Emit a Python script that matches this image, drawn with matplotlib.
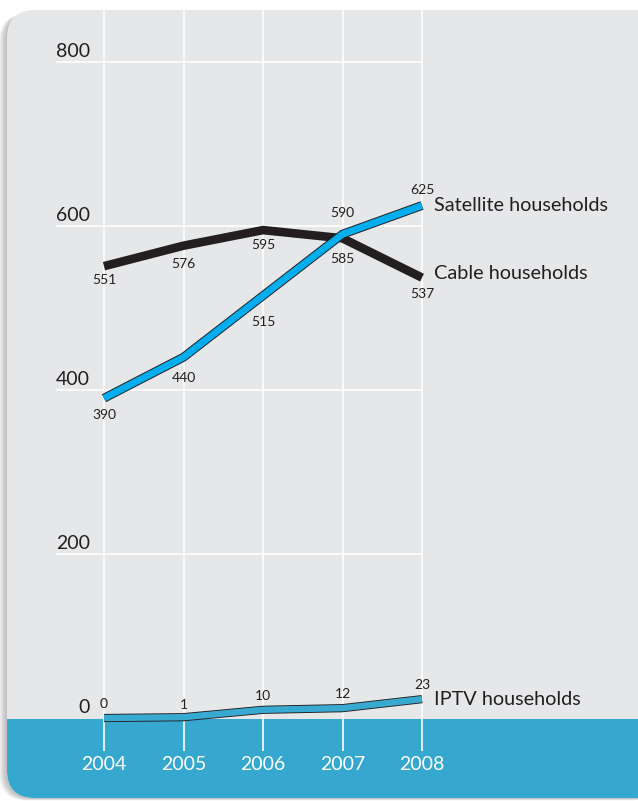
import matplotlib
matplotlib.use("Agg")
import matplotlib.pyplot as plt
from matplotlib.patches import FancyBboxPatch, Rectangle
import matplotlib.patheffects as pe

plt.rcParams['font.family'] = ['Lato', 'DejaVu Sans']

# ---- data ----
years = [2004, 2005, 2006, 2007, 2008]
satellite = [390, 440, 515, 590, 625]
cable = [551, 576, 595, 585, 537]
iptv = [0, 1, 10, 12, 23]
yticks = [0, 200, 400, 600, 800]
series_names = ["Satellite households", "Cable households", "IPTV households"]

# ---- colours ----
TEXT = "#231f20"
PANEL = "#e6e7e9"
BAND = "#36a7ce"
SAT = "#00aeef"
IPTV_C = "#38a9d1"

W, H = 638, 801
fig = plt.figure(figsize=(W / 100, H / 100), dpi=100)
fig.patch.set_facecolor("white")

# background axes in pixel coordinates
bg = fig.add_axes([0, 0, 1, 1])
bg.set_xlim(0, W)
bg.set_ylim(H, 0)
bg.axis("off")

# shadow layers
for i in range(8, 0, -1):
    sh = FancyBboxPatch((7 - i, 12 + i * 0.3), 660, 786, boxstyle="round,pad=0,rounding_size=28",
                        facecolor="#808080", edgecolor="none", alpha=0.08)
    bg.add_patch(sh)

panel = FancyBboxPatch((7, 10), 660, 788, boxstyle="round,pad=0,rounding_size=28",
                       facecolor=PANEL, edgecolor="none")
bg.add_patch(panel)
band = Rectangle((0, 719), W + 40, 120, facecolor=BAND, edgecolor="none")
bg.add_patch(band)
band.set_clip_path(panel)

# data axes mapped so that 2004 -> x=104px, 2008 -> x=422px, 0 -> y=718px, 800 -> y=62px
XPX0, XSTEP = 104.0, 79.5
YPX0, YSC = 718.0, 0.82
ax = fig.add_axes([0, 0, 1, 1])
ax.set_xlim(years[0] - XPX0 / XSTEP, years[0] + (W - XPX0) / XSTEP)
ax.set_ylim(-(H - YPX0) / YSC, YPX0 / YSC)
ax.patch.set_alpha(0)
ax.axis("off")

def px_to_x(px):
    return years[0] + (px - XPX0) / XSTEP

def px_to_y(py):
    return (YPX0 - py) / YSC

# grid
ax.vlines(years, px_to_y(751), px_to_y(10), color="white", lw=1.2, zorder=1)
ax.hlines(yticks[1:], px_to_x(56), years[-1], color="white", lw=1.2, zorder=1)

# y labels (right-aligned)
for v in yticks:
    ax.text(px_to_x(90), v + 2, str(v), ha="right", va="bottom", fontsize=14, color=TEXT, zorder=5)

# lines
ax.plot(years, cable, color=TEXT, lw=6.2, solid_capstyle="butt", solid_joinstyle="miter", zorder=3)
ax.plot(years, satellite, color=SAT, lw=5.0, solid_capstyle="butt", solid_joinstyle="miter", zorder=4,
        path_effects=[pe.Stroke(linewidth=6.4, foreground=TEXT, capstyle="butt", joinstyle="miter"), pe.Normal()])
ax.plot(years, iptv, color=IPTV_C, lw=4.6, solid_capstyle="butt", solid_joinstyle="miter", zorder=4,
        path_effects=[pe.Stroke(linewidth=5.9, foreground=TEXT, capstyle="butt", joinstyle="miter"), pe.Normal()])

# value labels
lab_kw = dict(textcoords="offset points", ha="center", va="center", fontsize=10, color=TEXT, zorder=6)
cable_off = [-10, -13, -11, -15, -12]
sat_off = [-12, -15, -19, 15, 11]
iptv_off = [10, 9, 10, 10, 10]
for x, v, o in zip(years, cable, cable_off):
    ax.annotate(str(v), (x, v), xytext=(0, o), **lab_kw)
for x, v, o in zip(years, satellite, sat_off):
    ax.annotate(str(v), (x, v), xytext=(0, o), **lab_kw)
for x, v, o in zip(years, iptv, iptv_off):
    ax.annotate(str(v), (x, v), xytext=(0, o), **lab_kw)

# series names
name_kw = dict(textcoords="offset points", ha="left", va="center", fontsize=14.3, color=TEXT, zorder=6)
ax.annotate(series_names[0], (years[-1], satellite[-1]), xytext=(9, 0), **name_kw)
ax.annotate(series_names[1], (years[-1], cable[-1]), xytext=(9, 3), **name_kw)
ax.annotate(series_names[2], (years[-1], iptv[-1]), xytext=(9, 0), **name_kw)

# year labels
for x in years:
    ax.text(x, px_to_y(765), str(x), ha="center", va="center", fontsize=14, color="white", zorder=6)

fig.savefig("out.png", dpi=100)
